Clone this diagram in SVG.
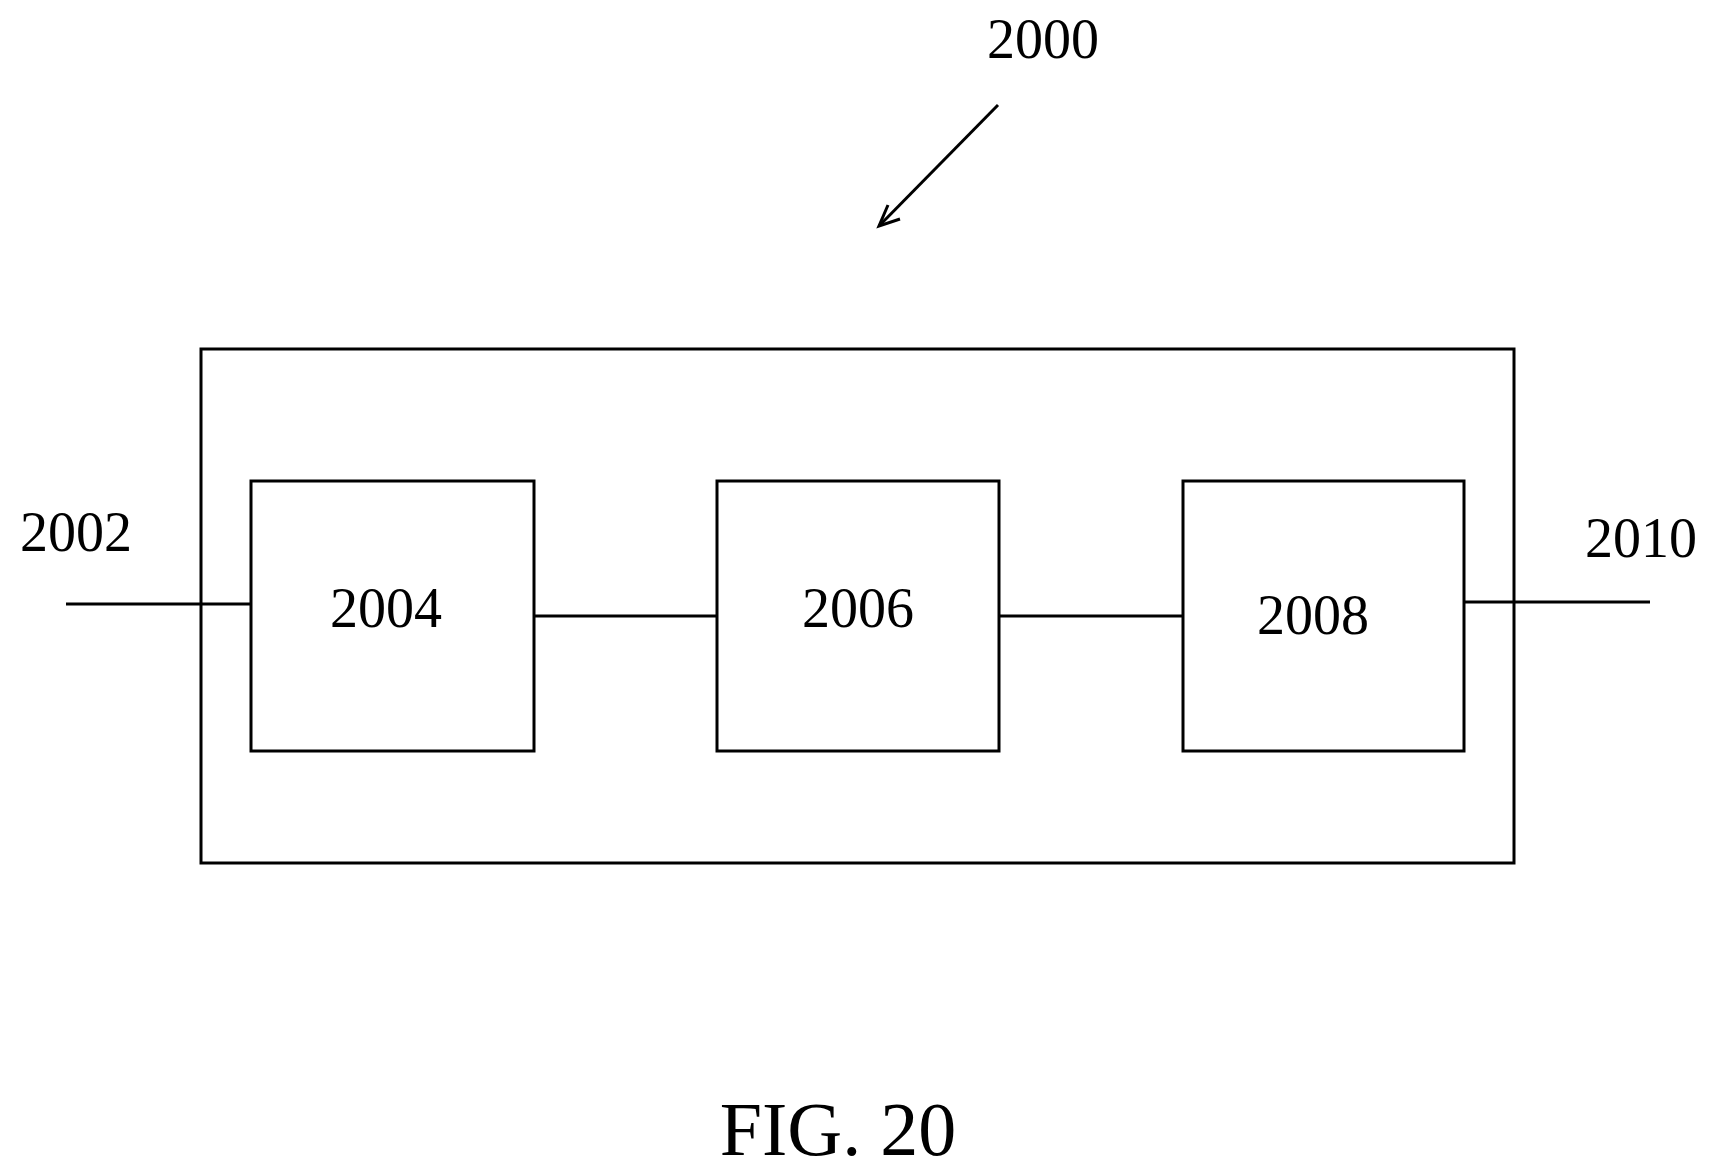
<svg xmlns="http://www.w3.org/2000/svg" width="1717" height="1175" viewBox="0 0 1717 1175">
<style>
.b{fill:none;stroke:#000;stroke-width:3}
.t{font-family:"Liberation Serif",serif;font-size:56px;fill:#000}
.c{text-anchor:middle}
</style>
<rect width="1717" height="1175" fill="#fff"/>
<g id="outer"><rect class="b" x="201" y="349" width="1313" height="514"/></g>
<g id="connectors" class="b">
<line x1="66" y1="604" x2="251" y2="604"/>
<line x1="535" y1="616" x2="717" y2="616"/>
<line x1="1000" y1="616" x2="1183" y2="616"/>
<line x1="1464" y1="602" x2="1650" y2="602"/>
<line x1="998" y1="105" x2="879" y2="226"/>
<polyline points="888,205 879,226 900,219"/>
</g>
<g id="n2004"><rect class="b" x="251" y="481" width="283" height="270"/><text class="t c" x="386" y="627">2004</text></g>
<g id="n2006"><rect class="b" x="717" y="481" width="282" height="270"/><text class="t c" x="858" y="627">2006</text></g>
<g id="n2008"><rect class="b" x="1183" y="481" width="281" height="270"/><text class="t c" x="1313" y="634">2008</text></g>
<g id="labels">
<text class="t c" x="1043" y="58">2000</text>
<text class="t" x="20" y="551">2002</text>
<text class="t" x="1585" y="557">2010</text>
<text class="t c" x="838" y="1155" style="font-size:76px">FIG. 20</text>
</g>
</svg>
